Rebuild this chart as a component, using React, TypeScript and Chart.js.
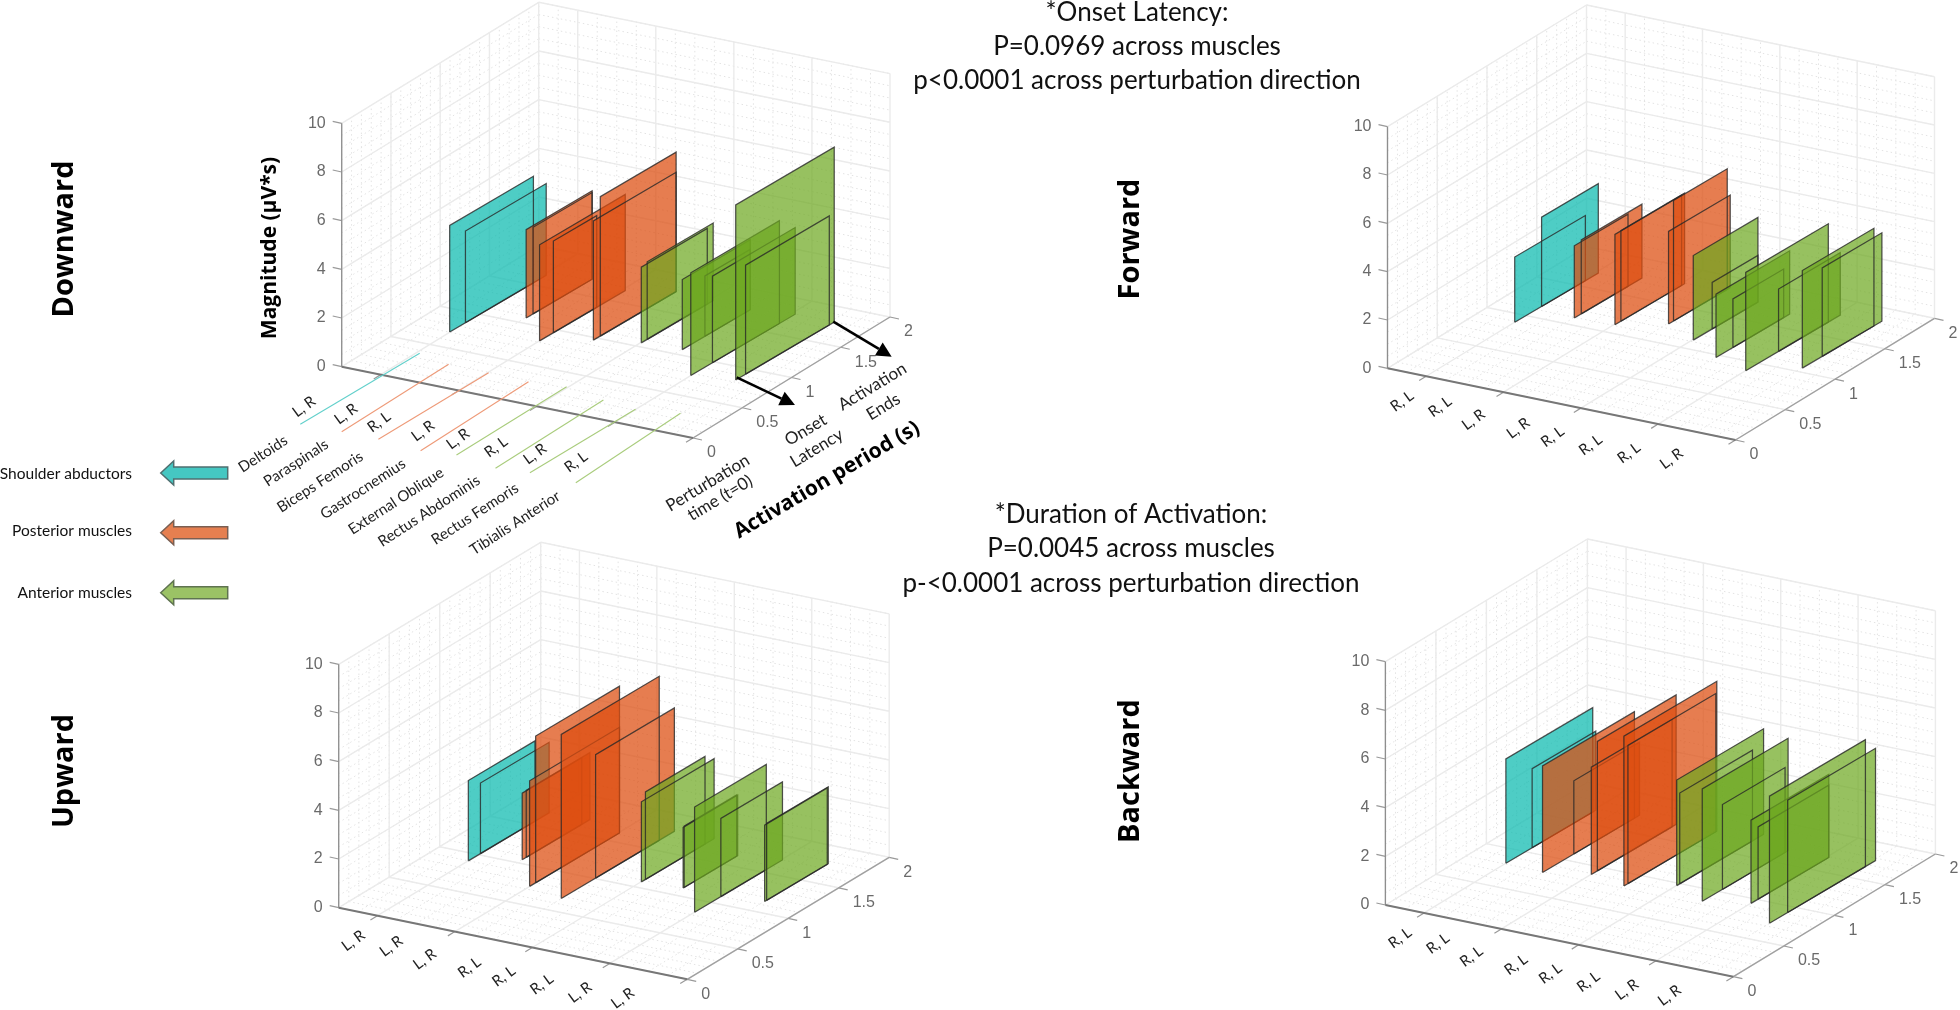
import React, { useEffect, useRef } from "react";
import { Chart, registerables } from "chart.js";

Chart.register(...registerables);

// ---- data ----
const muscles = ["Deltoids", "Paraspinals", "Biceps Femoris", "Gastrocnemius", "External Oblique", "Rectus Abdominis", "Rectus Femoris", "Tibialis Anterior"];
const muscleGroups = ["teal", "orange", "orange", "orange", "green", "green", "green", "green"];

// two plates per muscle, in muscle order
const downwardOnset = [0.7, 0.86, 1.08, 1.15, 0.82, 0.96, 0.97, 1.04, 1.06, 1.12, 1.08, 1.31, 0.77, 0.99, 0.83, 0.93];
const downwardEnd = [1.55, 1.68, 1.75, 1.75, 1.69, 1.4, 1.81, 1.81, 1.73, 1.79, 1.77, 1.77, 1.67, 1.83, 1.83, 1.78];
const downwardMagnitude = [4.38, 3.77, 3.63, 3.56, 3.95, 3.77, 4.9, 5.73, 3.11, 3.19, 2.88, 2.48, 4.22, 3.56, 7.19, 4.48];

const forwardOnset = [0.89, 1.16, 1.1, 1.17, 1.12, 1.18, 1.27, 1.32, 1.13, 1.32, 0.97, 1.14, 0.88, 1.21, 1.06, 1.26];
const forwardEnd = [1.6, 1.73, 1.64, 1.78, 1.79, 1.82, 1.89, 1.86, 1.78, 1.78, 1.71, 1.65, 1.71, 1.83, 1.78, 1.86];
const forwardMagnitude = [2.7, 3.7, 2.99, 3.06, 3.74, 3.75, 3.83, 4.99, 3.5, 1.93, 2.62, 2.01, 4.07, 2.58, 4.04, 3.66];

const upwardOnset = [0.9, 1.02, 1.05, 1.09, 0.74, 0.8, 0.67, 1.01, 1.08, 1.12, 1.11, 1.12, 0.84, 1.1, 1.15, 1.17];
const upwardEnd = [1.56, 1.7, 1.64, 1.72, 1.63, 1.63, 1.64, 1.79, 1.8, 1.71, 1.65, 1.64, 1.55, 1.71, 1.77, 1.78];
const upwardMagnitude = [3.3, 2.9, 2.74, 2.75, 4.34, 6.03, 6.74, 5.07, 3.29, 3.6, 2.49, 2.52, 4.32, 3.21, 3.14, 3.16];

const backwardOnset = [0.81, 1.07, 0.79, 1.1, 0.89, 0.95, 0.83, 0.87, 0.97, 1.0, 0.84, 1.04, 0.94, 1.01, 0.74, 0.92];
const backwardEnd = [1.67, 1.7, 1.7, 1.75, 1.69, 1.73, 1.75, 1.74, 1.83, 1.72, 1.69, 1.66, 1.71, 1.71, 1.69, 1.79];
const backwardMagnitude = [4.29, 3.25, 4.38, 3.01, 4.41, 5.32, 6.16, 5.68, 4.34, 3.73, 4.62, 3.49, 3.42, 2.97, 5.22, 4.62];

const downwardSides = ["L, R", "L, R", "R, L", "L, R", "L, R", "R, L", "L, R", "R, L"];
const forwardSides = ["R, L", "R, L", "L, R", "L, R", "R, L", "R, L", "R, L", "L, R"];
const upwardSides = ["L, R", "L, R", "L, R", "R, L", "R, L", "R, L", "L, R", "L, R"];
const backwardSides = ["R, L", "R, L", "R, L", "R, L", "R, L", "R, L", "L, R", "L, R"];

const magnitudeTicks = [0, 2, 4, 6, 8, 10];
const periodTicks = [0, 0.5, 1, 1.5, 2];
const muscleTicks = [1, 3, 5, 7, 9];
const onsetNote = ["*Onset Latency:", "P=0.0969 across muscles", "p<0.0001 across perturbation direction"];
const durationNote = ["*Duration of Activation:", "P=0.0045 across muscles", "p-<0.0001 across perturbation direction"];
const legendNames = ["Shoulder abductors", "Posterior muscles", "Anterior muscles"];

// ---- layout (not data) ----
const W = 1960;
const H = 1010;
const X_MAX = 9;
const Y_MAX = 2;
const Z_MAX = 10;
const sideLabelOffsetsFirst = [[-37.7, 40], [4.3, 47.3], [37.3, 55.3], [81.3, 64.3], [116.3, 72.3], [154.3, 80.3], [193.3, 87.3], [234.3, 95.3]];
const sideLabelOffsets = [[14.6, 33], [52.5, 38.5], [86, 51.5], [130.7, 59.8], [165, 68.5], [203, 76.6], [241.4, 84.7], [284, 90.5]];
const muscleLabelPos = [[263, 454], [296, 463], [320, 482], [363, 489], [396, 501], [429, 511], [475, 514], [515, 523]];
const guideLines = [
  [300.3, 424.3, 419.7, 353.3], [341.7, 431.7, 448.6, 364.3], [378.4, 439.3, 488.6, 372.7], [420.6, 450.7, 528.5, 381.7],
  [456.5, 455, 566.6, 386.7], [495.5, 468.3, 603.4, 400], [529.9, 472.7, 635.5, 409.3], [575.8, 482.7, 680.5, 413.3],
];
const guideColors = ["#62d0cb", "#ee9a78", "#ee9a78", "#ee9a78", "#a9cc7c", "#a9cc7c", "#a9cc7c", "#a9cc7c"];

const FILL: Record<string, string> = {
  teal: "rgba(10,186,175,0.72)",
  orange: "rgba(221,77,15,0.73)",
  green: "rgba(108,168,31,0.71)",
};

type Panel = {
  o: number[]; xv: number[]; yv: number[]; zv: number[]; depth: number;
  onset: number[]; end: number[]; magnitude: number[]; sides: string[]; first?: boolean;
};

// depth: slight flattening of the view for points inside the box (the reference is not quite orthographic)
const panels: Panel[] = [
  { o: [341.7, 366.7], xv: [351.3, 71.3], yv: [197, -121], zv: [0, -243.4], depth: 5.3, onset: downwardOnset, end: downwardEnd, magnitude: downwardMagnitude, sides: downwardSides, first: true },
  { o: [1387.5, 368.3], xv: [348, 71.7], yv: [199, -121.7], zv: [0, -241.6], depth: 4.5, onset: forwardOnset, end: forwardEnd, magnitude: forwardMagnitude, sides: forwardSides },
  { o: [338.7, 907.7], xv: [348.5, 71.6], yv: [202, -122], zv: [0, -243.4], depth: 2, onset: upwardOnset, end: upwardEnd, magnitude: upwardMagnitude, sides: upwardSides },
  { o: [1385.4, 905], xv: [348, 71.7], yv: [202, -122.7], zv: [0, -243.3], depth: 3.5, onset: backwardOnset, end: backwardEnd, magnitude: backwardMagnitude, sides: backwardSides },
];

function project(p: Panel, x: number, y: number, z: number) {
  const a = x / X_MAX;
  const b = y / Y_MAX;
  const c = z / Z_MAX;
  return {
    x: p.o[0] + a * p.xv[0] + b * p.yv[0] + c * p.zv[0],
    y: p.o[1] + a * p.xv[1] + b * p.yv[1] + c * p.zv[1],
  };
}

function plateProject(p: Panel, x: number, y: number, z: number) {
  const q = project(p, x, y, z);
  return { x: q.x, y: q.y + (y / Y_MAX - 0.4) * p.depth };
}

const GAP = { x: NaN, y: NaN };

function steps(max: number, step: number) {
  const out: number[] = [];
  for (let k = 0; k * step <= max + 1e-9; k++) out.push(k * step);
  return out;
}

function gridPoints(p: Panel, xs: number[], ys: number[], zs: number[]) {
  const pts: { x: number; y: number }[] = [];
  const seg = (a: number[], b: number[]) => {
    pts.push(project(p, a[0], a[1], a[2]), project(p, b[0], b[1], b[2]), GAP);
  };
  // floor
  xs.forEach((x) => seg([x, 0, 0], [x, Y_MAX, 0]));
  ys.forEach((y) => seg([0, y, 0], [X_MAX, y, 0]));
  // left wall
  ys.forEach((y) => seg([0, y, 0], [0, y, Z_MAX]));
  zs.forEach((z) => seg([0, 0, z], [0, Y_MAX, z]));
  // back wall
  xs.forEach((x) => seg([x, Y_MAX, 0], [x, Y_MAX, Z_MAX]));
  zs.forEach((z) => seg([0, Y_MAX, z], [X_MAX, Y_MAX, z]));
  return pts;
}

// Coplanar plates of a muscle share one layer of colour: outline of their union.
function unionOutline(p: Panel, m: number, i: number, j: number) {
  const ys = [p.onset[i], p.end[i], p.onset[j], p.end[j]].sort((a, b) => a - b);
  const pts = [plateProject(p, m, ys[0], 0)];
  for (let k = 0; k < 3; k++) {
    const mid = (ys[k] + ys[k + 1]) / 2;
    const h = Math.max(
      p.onset[i] <= mid && mid <= p.end[i] ? p.magnitude[i] : 0,
      p.onset[j] <= mid && mid <= p.end[j] ? p.magnitude[j] : 0
    );
    pts.push(plateProject(p, m, ys[k], h), plateProject(p, m, ys[k + 1], h));
  }
  pts.push(plateProject(p, m, ys[3], 0), plateProject(p, m, ys[0], 0));
  return pts;
}

function buildDatasets() {
  const sets: any[] = [];
  const line = (data: any[], color: string, width: number, dash: number[] = []) =>
    sets.push({ data, borderColor: color, borderWidth: width, borderDash: dash, showLine: true, pointRadius: 0, fill: false, spanGaps: false, tension: 0 });

  panels.forEach((p) => {
    line(gridPoints(p, steps(X_MAX, 0.5).filter((v) => v % 2 !== 1), steps(Y_MAX, 0.1), steps(Z_MAX, 0.5)), "#e3e3e3", 1, [1.5, 3]);
    line(gridPoints(p, [0, ...muscleTicks], periodTicks, magnitudeTicks), "#ebebeb", 1.4);
    // axes and ticks
    const tickPts: { x: number; y: number }[] = [];
    magnitudeTicks.forEach((z) => {
      const a = project(p, 0, 0, z);
      tickPts.push(a, { x: a.x - 9, y: a.y - 2 }, GAP);
    });
    muscleTicks.forEach((x) => {
      const a = project(p, x, 0, 0);
      tickPts.push(a, { x: a.x - 7, y: a.y + 4.3 }, GAP);
    });
    periodTicks.forEach((y) => {
      const a = project(p, X_MAX, y, 0);
      tickPts.push(a, { x: a.x + 9, y: a.y + 2 }, GAP);
    });
    line(tickPts, "#9a9a9a", 1.2);
    line([project(p, 0, 0, 0), project(p, 0, 0, Z_MAX)], "#8e8e8e", 1.3);
    line([project(p, X_MAX, 0, 0), project(p, X_MAX, Y_MAX, 0)], "#a0a0a0", 1.4);
    line([project(p, 0, 0, 0), project(p, X_MAX, 0, 0)], "#777777", 1.9);

    // activation plates
    muscles.forEach((name, idx) => {
      const m = idx + 1;
      const i = idx * 2;
      const j = i + 1;
      sets.push({
        label: `${name} fill`,
        data: unionOutline(p, m, i, j),
        showLine: true,
        fill: "shape",
        backgroundColor: FILL[muscleGroups[idx]],
        borderWidth: 0,
        pointRadius: 0,
        tension: 0,
      });
      [i, j].forEach((k) => {
        const on = p.onset[k];
        const end = p.end[k];
        const mag = p.magnitude[k];
        line([plateProject(p, m, on, 0), plateProject(p, m, end, 0), plateProject(p, m, end, mag), plateProject(p, m, on, mag), plateProject(p, m, on, 0)], "rgba(40,40,40,0.8)", 1.25);
      });
    });
  });
  // later datasets paint on top
  sets.forEach((s, i) => (s.order = sets.length - i));
  return sets;
}

function text(ctx: CanvasRenderingContext2D, s: string, x: number, y: number, font: string, color: string, align: CanvasTextAlign = "center", deg = 0) {
  ctx.save();
  ctx.translate(x, y);
  ctx.rotate((deg * Math.PI) / 180);
  ctx.font = font;
  ctx.fillStyle = color;
  ctx.textAlign = align;
  ctx.textBaseline = "middle";
  ctx.fillText(s, 0, 0);
  ctx.restore();
}

function legendArrow(ctx: CanvasRenderingContext2D, tip: number, y: number, fill: string, stroke: string) {
  const tail = tip + 67;
  const neck = tip + 13;
  ctx.beginPath();
  ctx.moveTo(tip, y);
  ctx.lineTo(neck, y - 12);
  ctx.lineTo(neck, y - 6);
  ctx.lineTo(tail, y - 6);
  ctx.lineTo(tail, y + 6);
  ctx.lineTo(neck, y + 6);
  ctx.lineTo(neck, y + 12);
  ctx.closePath();
  ctx.fillStyle = fill;
  ctx.strokeStyle = stroke;
  ctx.lineWidth = 1.5;
  ctx.fill();
  ctx.stroke();
}

function blackArrow(ctx: CanvasRenderingContext2D, x0: number, y0: number, x1: number, y1: number) {
  const ang = Math.atan2(y1 - y0, x1 - x0);
  const len = 15;
  const hw = 7.5;
  const bx = x1 - len * Math.cos(ang);
  const by = y1 - len * Math.sin(ang);
  ctx.strokeStyle = "#000";
  ctx.lineWidth = 2.6;
  ctx.beginPath();
  ctx.moveTo(x0, y0);
  ctx.lineTo(bx, by);
  ctx.stroke();
  ctx.fillStyle = "#000";
  ctx.beginPath();
  ctx.moveTo(x1, y1);
  ctx.lineTo(bx - hw * Math.sin(ang), by + hw * Math.cos(ang));
  ctx.lineTo(bx + hw * Math.sin(ang), by - hw * Math.cos(ang));
  ctx.closePath();
  ctx.fill();
}

const CAL = "Lato, 'Open Sans', sans-serif";
const TICK = "'Liberation Sans', Arial, sans-serif";
const TICK_COLOR = "#6a6a6a";

const overlay = {
  id: "overlay",
  afterDatasetsDraw(chart: any) {
    const ctx: CanvasRenderingContext2D = chart.ctx;
    panels.forEach((p) => {
      magnitudeTicks.forEach((z) => {
        const a = project(p, 0, 0, z);
        text(ctx, String(z), a.x - 16, a.y, `16px ${TICK}`, TICK_COLOR, "right");
      });
      periodTicks.forEach((y) => {
        const a = project(p, X_MAX, y, 0);
        text(ctx, String(y), a.x + 14, a.y + 15, `16px ${TICK}`, TICK_COLOR, "left");
      });
      const offs = p.first ? sideLabelOffsetsFirst : sideLabelOffsets;
      p.sides.forEach((s, i) => {
        text(ctx, s, p.o[0] + offs[i][0], p.o[1] + offs[i][1], `15px ${CAL}`, "#222", "center", -36);
      });
    });

    // muscle names and guide lines of the first panel
    guideLines.forEach((g, i) => {
      ctx.strokeStyle = guideColors[i];
      ctx.lineWidth = 1.1;
      ctx.beginPath();
      ctx.moveTo(g[0], g[1]);
      ctx.lineTo(g[2], g[3]);
      ctx.stroke();
    });
    muscles.forEach((m, i) => text(ctx, m, muscleLabelPos[i][0], muscleLabelPos[i][1], `15px ${CAL}`, "#222", "center", -33));

    // black arrows and their captions
    blackArrow(ctx, 736.7, 377.3, 795, 405);
    blackArrow(ctx, 833.3, 321.7, 891.7, 356.7);
    const cap = `17px ${CAL}`;
    text(ctx, "Perturbation", 707.7, 483, cap, "#222", "center", -31);
    text(ctx, "time (t=0)", 720, 498, cap, "#222", "center", -31);
    text(ctx, "Onset", 805.7, 430, cap, "#222", "center", -31);
    text(ctx, "Latency", 816.7, 448, cap, "#222", "center", -31);
    text(ctx, "Activation", 872.3, 386.7, cap, "#222", "center", -31);
    text(ctx, "Ends", 883.3, 406.7, cap, "#222", "center", -31);
    text(ctx, "Activation period (s)", 827, 480, `bold 21px 'Open Sans', sans-serif`, "#000", "center", -30.5);
    text(ctx, "Magnitude (µV*s)", 270.5, 248, `bold 21px 'Open Sans', sans-serif`, "#000", "center", -90);

    // direction titles
    const title = `bold 29px 'Open Sans', sans-serif`;
    text(ctx, "Downward", 65, 239, title, "#000", "center", -90);
    text(ctx, "Forward", 1131, 239, title, "#000", "center", -90);
    text(ctx, "Upward", 65, 771, title, "#000", "center", -90);
    text(ctx, "Backward", 1131, 771, title, "#000", "center", -90);

    // statistics notes
    const note = `26px ${CAL}`;
    onsetNote.forEach((s, i) => text(ctx, s, 1137, 13 + i * 33.8, note, "#111"));
    durationNote.forEach((s, i) => text(ctx, s, 1131, 514.5 + i * 34.5, note, "#111"));

    // colour key
    const keyY = [474, 531, 593];
    const arrowY = [473, 532.7, 592.7];
    const keyFill = ["#45c7c2", "#e67f50", "#9bc265"];
    const keyStroke = ["#4f6f70", "#7a5f52", "#5f7350"];
    legendNames.forEach((s, i) => {
      text(ctx, s, 132, keyY[i], `15.5px ${CAL}`, "#111", "right");
      legendArrow(ctx, 160.7, arrowY[i], keyFill[i], keyStroke[i]);
    });
  },
};

export default function App() {
  const ref = useRef<HTMLCanvasElement>(null);
  useEffect(() => {
    const chart = new Chart(ref.current as HTMLCanvasElement, {
      type: "scatter",
      data: { datasets: buildDatasets() },
      options: {
        animation: false,
        responsive: false,
        maintainAspectRatio: false,
        devicePixelRatio: 1,
        events: [],
        layout: { padding: 0 },
        plugins: { legend: { display: false }, tooltip: { enabled: false } },
        elements: { line: { borderCapStyle: "butt" } },
        scales: {
          x: { type: "linear", min: 0, max: W, display: false },
          y: { type: "linear", min: 0, max: H, reverse: true, display: false },
        },
      },
      plugins: [overlay],
    } as any);
    return () => chart.destroy();
  }, []);
  return (
    <canvas
      ref={ref}
      width={W}
      height={H}
      style={{ position: "absolute", left: 0, top: 0, width: W, height: H, display: "block", filter: "blur(0.4px)" }}
    />
  );
}
